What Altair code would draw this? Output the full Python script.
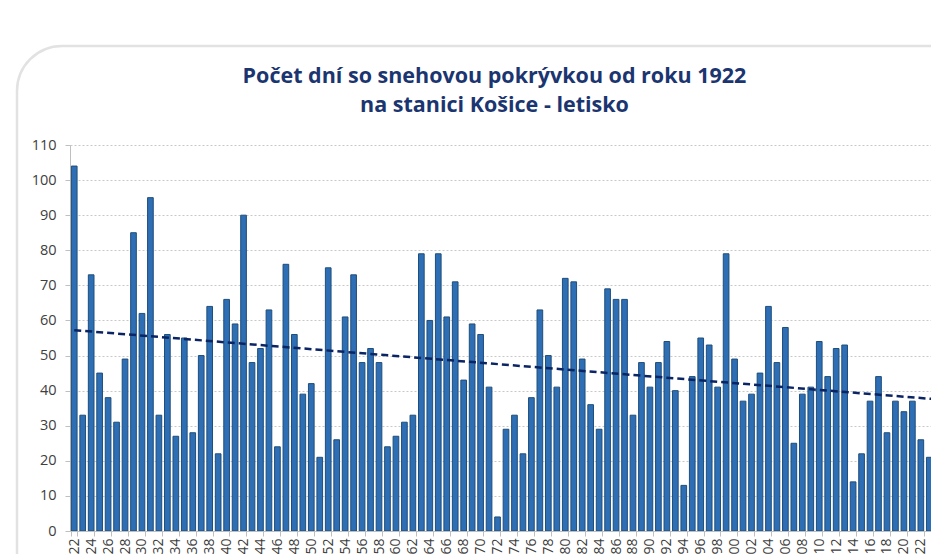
import altair as alt
import pandas as pd

years = list(range(1922, 2025))
days = [
    104, 33, 73, 45, 38, 31, 49, 85, 62, 95,
    33, 56, 27, 55, 28, 50, 64, 22, 66, 59,
    90, 48, 52, 63, 24, 76, 56, 39, 42, 21,
    75, 26, 61, 73, 48, 52, 48, 24, 27, 31,
    33, 79, 60, 79, 61, 71, 43, 59, 56, 41,
    4, 29, 33, 22, 38, 63, 50, 41, 72, 71,
    49, 36, 29, 69, 66, 66, 33, 48, 41, 48,
    54, 40, 13, 44, 55, 53, 41, 79, 49, 37,
    39, 45, 64, 48, 58, 25, 39, 41, 54, 44,
    52, 53, 14, 22, 37, 44, 28, 37, 34, 37,
    26, 21, 11,
]
title_lines = ["Počet dní so snehovou pokrývkou od roku 1922", "na stanici Košice - letisko"]
y_ticks = list(range(0, 111, 10))
x_label_years = years[::2]

df = pd.DataFrame({"year": years, "days": days})

FONT = "Open Sans"
AXIS_GRAY = "#BFBFBF"
LABEL_COL = "#404040"

x_scale = alt.Scale(domain=years, range=[0, 872], paddingInner=0.33, paddingOuter=0.165)
y_scale = alt.Scale(domain=[0, 110], nice=False)

x_axis = alt.Axis(values=x_label_years, labelAngle=270, tickBand="extent",
                  labelFont=FONT, labelFontSize=14, labelColor=LABEL_COL,
                  domainColor=AXIS_GRAY, tickColor=AXIS_GRAY, tickSize=5,
                  labelPadding=2, grid=False, zindex=1)
y_axis = alt.Axis(values=y_ticks, labelFont=FONT, labelFontSize=14.5,
                  labelColor=LABEL_COL, domainColor=AXIS_GRAY, tickColor=AXIS_GRAY,
                  tickSize=5, labelPadding=9, grid=True, gridColor="#C8C8C8",
                  gridDash=[2, 2], gridWidth=1, zindex=0)

frame = alt.Chart(alt.Data(values=[{"a": 1}])).mark_rect(
    fill="white", fillOpacity=0, stroke="#E2E2E2", strokeWidth=2.5, cornerRadius=45
).encode(
    x=alt.value(-53), x2=alt.value(1000), y=alt.value(-99), y2=alt.value(600)
)

bars = alt.Chart(df).mark_bar(
    fill="#2E6EB5", stroke="#1F4E79", strokeWidth=1
).encode(
    x=alt.X("year:O", scale=x_scale, title=None, axis=x_axis),
    y=alt.Y("days:Q", scale=y_scale, title=None, axis=y_axis),
)

trend = alt.Chart(df).transform_regression("year", "days").mark_line(
    color="#0B2463", strokeWidth=2.5, strokeDash=[7, 4]
).encode(
    x=alt.X("year:O", scale=x_scale, title=None, axis=x_axis),
    y=alt.Y("days:Q", scale=y_scale, title=None, axis=y_axis),
)

chart = alt.layer(frame, bars, trend).properties(
    width=861,
    height=386,
    autosize=alt.AutoSizeParams(type="none"),
    padding={"left": 62, "top": 137, "right": 0, "bottom": 23},
    title=alt.TitleParams(
        text=title_lines, font=FONT, fontSize=21.5, fontWeight="bold",
        color="#1B3570", anchor="middle", dx=-6, dy=100, offset=28, lineHeight=29,
    ),
).configure_view(stroke=None)

chart.save("out.html", embed_options={"renderer": "svg", "actions": False})
